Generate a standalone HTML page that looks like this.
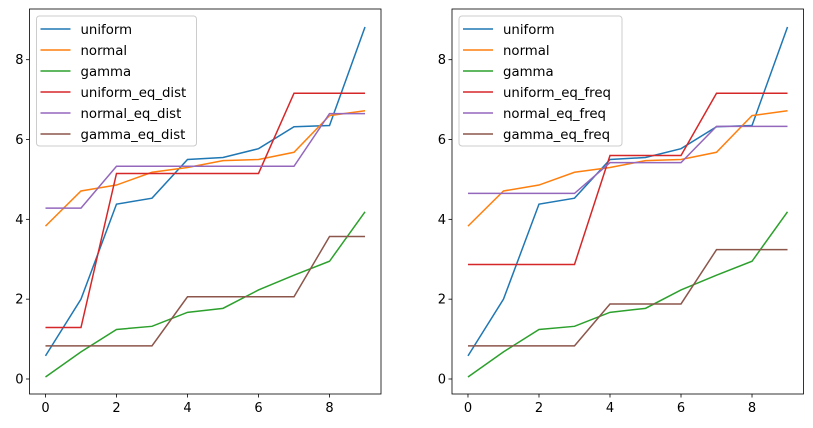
<!DOCTYPE html>
<html><head><meta charset="utf-8"><style>
html,body{margin:0;padding:0;background:#fff;}
svg{display:block;font-family:"DejaVu Sans","Liberation Sans",sans-serif;}
</style></head><body>
<svg id="chart" width="813" height="428" viewBox="0 0 813 428"></svg>
<script>
const xValues=[0,1,2,3,4,5,6,7,8,9];
const uniform=[0.58,2.0,4.38,4.53,5.5,5.55,5.77,6.32,6.35,8.82];
const normal=[3.83,4.71,4.86,5.18,5.3,5.47,5.5,5.68,6.6,6.72];
const gamma=[0.05,0.68,1.24,1.32,1.67,1.77,2.23,2.6,2.95,4.19];
const uniformEqDist=[1.29,1.29,5.15,5.15,5.15,5.15,5.15,7.16,7.16,7.16];
const normalEqDist=[4.28,4.28,5.33,5.33,5.33,5.33,5.33,5.33,6.65,6.65];
const gammaEqDist=[0.83,0.83,0.83,0.83,2.06,2.06,2.06,2.06,3.57,3.57];
const uniformEqFreq=[2.87,2.87,2.87,2.87,5.6,5.6,5.6,7.16,7.16,7.16];
const normalEqFreq=[4.65,4.65,4.65,4.65,5.42,5.42,5.42,6.33,6.33,6.33];
const gammaEqFreq=[0.83,0.83,0.83,0.83,1.88,1.88,1.88,3.24,3.24,3.24];
const xTicks=[0,2,4,6,8];
const yTicks=[0,2,4,6,8];
const colors=['#1f77b4','#ff7f0e','#2ca02c','#d62728','#9467bd','#8c564b'];
const NS='http://www.w3.org/2000/svg';
const svg=document.getElementById('chart');
function mk(tag,attrs,parent){const e=document.createElementNS(NS,tag);for(const k in attrs)e.setAttribute(k,attrs[k]);(parent||svg).appendChild(e);return e;}
const xMin=-0.45,xMax=9.45,yMin=-0.376,yMax=9.27;
function panel(px,name,series,labels,legendW){
  const L=px,R=px+351.5,T=9,B=394;
  const sx=v=>L+(v-xMin)/(xMax-xMin)*(R-L);
  const sy=v=>B-(v-yMin)/(yMax-yMin)*(B-T);
  const g=mk('g',{});
  
  
  series.forEach((s,i)=>{
    const d=s.map((v,j)=>(j?'L':'M')+sx(xValues[j]).toFixed(2)+','+sy(v).toFixed(2)).join('');
    const p=mk('path',{d:d,fill:'none',stroke:colors[i],'stroke-width':1.5},g);
    
    
  });
  const fr=mk('rect',{x:L,y:T,width:R-L,height:B-T,fill:'none',stroke:'#000','stroke-width':0.8},g);
  
  
  xTicks.forEach(t=>{
    const x=sx(t);
    mk('line',{x1:x,x2:x,y1:B,y2:B+3.5,stroke:'#000','stroke-width':0.8},g);
    const tx=mk('text',{x:x,y:B+18,'font-size':13,'text-anchor':'middle',fill:'#000'},g);
    tx.textContent=t;
    
    
  });
  yTicks.forEach(t=>{
    const y=sy(t);
    mk('line',{x1:L-3.5,x2:L,y1:y,y2:y,stroke:'#000','stroke-width':0.8},g);
    const tx=mk('text',{x:L-6,y:y+4.5,'font-size':13,'text-anchor':'end',fill:'#000'},g);
    tx.textContent=t;
    
    
  });
  const lg=mk('g',{},g);
  
  
  mk('rect',{x:L+7,y:16,width:legendW,height:130,rx:3,fill:'#fff','fill-opacity':0.8,stroke:'#ccc','stroke-width':1},lg);
  labels.forEach((lb,i)=>{
    const y=29+i*21;
    const it=mk('g',{},lg);
    
    
    mk('line',{x1:L+11,x2:L+41,y1:y,y2:y,stroke:colors[i],'stroke-width':1.5},it);
    const tx=mk('text',{x:L+51,y:y+5,'font-size':13.3,fill:'#000'},it);
    tx.textContent=lb;
  });
}
panel(29.5,'left-panel',[uniform,normal,gamma,uniformEqDist,normalEqDist,gammaEqDist],['uniform','normal','gamma','uniform_eq_dist','normal_eq_dist','gamma_eq_dist'],160);
panel(452,'right-panel',[uniform,normal,gamma,uniformEqFreq,normalEqFreq,gammaEqFreq],['uniform','normal','gamma','uniform_eq_freq','normal_eq_freq','gamma_eq_freq'],163);
</script>
</body></html>
